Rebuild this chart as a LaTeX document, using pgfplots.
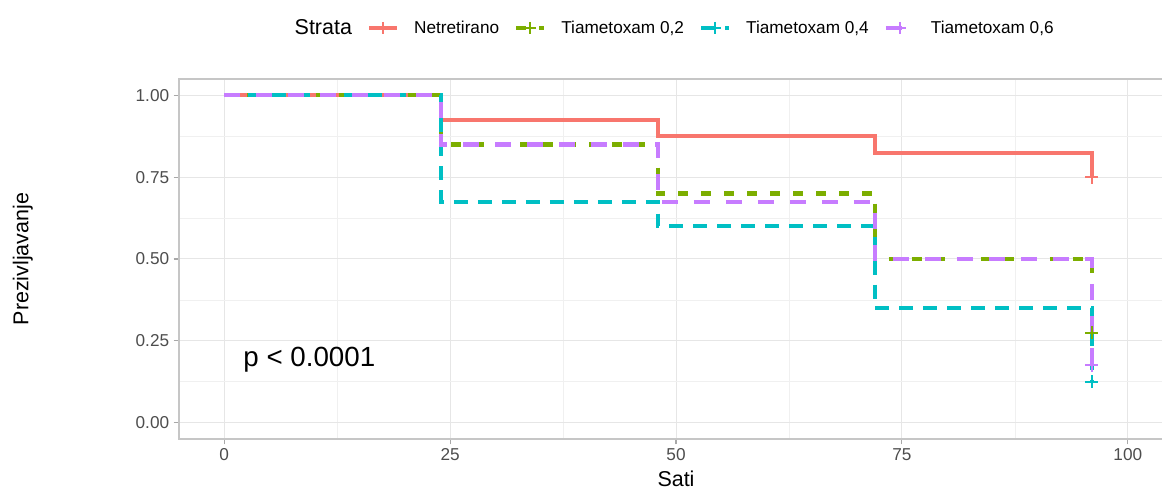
\documentclass[border=0pt]{standalone}
\usepackage{pgfplots}
\pgfplotsset{compat=1.18}
\usepackage{fontspec}
\setmainfont{Liberation Sans}
\definecolor{cA}{HTML}{F8766D}
\definecolor{cB}{HTML}{7CAE00}
\definecolor{cC}{HTML}{00BFC4}
\definecolor{cD}{HTML}{C77CFF}
\definecolor{gridmaj}{HTML}{E6E6E6}
\definecolor{gridmin}{HTML}{F0F0F0}
\definecolor{borderc}{HTML}{C6C6C6}
\definecolor{tickc}{HTML}{A8A8A8}
\definecolor{tlc}{HTML}{4D4D4D}
\begin{document}
\begin{tikzpicture}
\useasboundingbox (0,0) rectangle (871.5pt,369pt);
\begin{axis}[
  at={(134.25pt,39.75pt)}, anchor=south west,
  width=745.5pt, height=270pt, scale only axis,
  xmin=-5, xmax=105, ymin=-0.05, ymax=1.05,
  xtick={0,25,50,75,100}, ytick={0,0.25,0.5,0.75,1},
  minor xtick={12.5,37.5,62.5,87.5}, minor ytick={0.125,0.375,0.625,0.875},
  grid=both,
  major grid style={draw=gridmaj, line width=0.75pt},
  minor grid style={draw=gridmin, line width=0.5pt},
  minor tick length=0pt, major tick length=4pt,
  tick align=outside, xtick pos=left, ytick pos=left,
  major tick style={draw=tickc, line width=0.8pt},
  axis line style={draw=borderc, line width=0.9pt},
  /pgf/number format/assume math mode=true,
  yticklabel style={/pgf/number format/fixed, /pgf/number format/fixed zerofill, /pgf/number format/precision=2, xshift=-3.2pt},
  xticklabel style={yshift=-3.2pt},
  tick label style={font=\fontsize{12.9}{15}\selectfont, text=tlc, inner sep=0pt},
  xlabel={Sati}, ylabel={Prezivljavanje},
  label style={font=\fontsize{16.1}{19}\selectfont, text=black},
  xlabel style={at={(axis description cs:0.5,-0.1306)}, anchor=base, inner sep=0pt},
  ylabel style={at={(axis description cs:-0.157,0.5)}, anchor=center, inner sep=0pt},
  legend columns=-1,
  legend image code/.code={\draw[mark repeat=2,mark phase=2] plot coordinates {(0pt,0pt)(10.5pt,0pt)(21pt,0pt)};},
  legend style={at={(axis description cs:0.5,1.1417)}, anchor=center, xshift=-7pt,
    draw=none, fill=none, inner sep=0pt, column sep=11.25pt,
    nodes={inner xsep=0pt, font=\fontsize{12.9}{15}\selectfont, text=black}},
]
% Netretirano
\addplot[cA, line width=3.1pt, forget plot] coordinates {(0,1)(24,1)(24,0.925)(48,0.925)(48,0.875)(72,0.875)(72,0.825)(96,0.825)(96,0.75)};
% Tiametoxam 0,2
\addplot[cB, line width=3.1pt, dash pattern=on 7.5pt off 9.75pt, forget plot] coordinates {(0,1)(24,1)(24,0.85)(48,0.85)(48,0.70)(72,0.70)(72,0.50)(96,0.50)(96,0.275)};
% Tiametoxam 0,4
\addplot[cC, line width=3.1pt, dash pattern=on 10.5pt off 7.5pt, forget plot] coordinates {(0,1)(24,1)(24,0.675)(48,0.675)(48,0.60)(72,0.60)(72,0.35)(96,0.35)(96,0.125)};
% Tiametoxam 0,6
\addplot[cD, line width=3.1pt, dash pattern=on 12pt off 12pt, forget plot] coordinates {(0,1)(24,1)(24,0.85)(48,0.85)(48,0.675)(72,0.675)(72,0.50)(96,0.50)(96,0.175)};
% censor marks
\addplot[only marks, mark=+, mark size=4.9pt, cA, mark options={solid, line width=1.5pt}, forget plot] coordinates {(96,0.75)};
\addplot[only marks, mark=+, mark size=4.9pt, cB, mark options={solid, line width=1.5pt}, forget plot] coordinates {(96,0.275)};
\addplot[only marks, mark=+, mark size=4.9pt, cC, mark options={solid, line width=1.5pt}, forget plot] coordinates {(96,0.125)};
\addplot[only marks, mark=+, mark size=4.9pt, cD, mark options={solid, line width=1.5pt}, forget plot] coordinates {(96,0.175)};
% legend
\addlegendimage{empty legend}
\addlegendentry{\fontsize{16.1}{19}\selectfont Strata}
\addlegendimage{cA, line width=3.1pt, mark=+, mark options={solid, line width=1.5pt, mark size=4.5pt}}
\addlegendentry{Netretirano}
\addlegendimage{cB, line width=3.1pt, dash pattern=on 7.5pt off 9.75pt, mark=+, mark options={solid, line width=1.5pt, mark size=4.5pt}}
\addlegendentry{Tiametoxam 0,2}
\addlegendimage{cC, line width=3.1pt, dash pattern=on 10.5pt off 7.5pt, mark=+, mark options={solid, line width=1.5pt, mark size=4.5pt}}
\addlegendentry{Tiametoxam 0,4}
\addlegendimage{cD, line width=3.1pt, dash pattern=on 12pt off 12pt, mark=+, mark options={solid, line width=1.5pt, mark size=4.5pt}}
\addlegendentry{Tiametoxam 0,6}
\node[anchor=base west, inner sep=0pt, font=\fontsize{20.8}{24}\selectfont] at (axis cs:2.1,0.170) {p < 0.0001};
\end{axis}
\end{tikzpicture}
\end{document}
